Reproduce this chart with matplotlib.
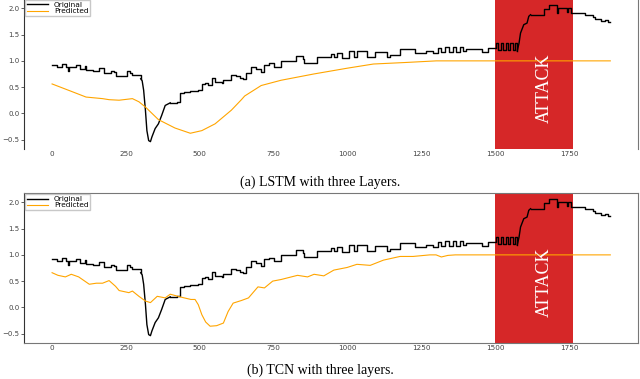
import numpy as np
import matplotlib.pyplot as plt

# "Original" signal.
# Step parts are drawn as steps, the dip and the attack ramp as plain lines.
step1_x = [0, 15, 35, 48, 54, 58, 82, 93, 110, 115, 138, 160, 177, 199, 210,
           216, 255, 263, 270, 294, 300]
step1_y = [0.92, 0.88, 0.94, 0.88, 0.80, 0.88, 0.92, 0.84, 0.90, 0.83, 0.81,
           0.86, 0.76, 0.81, 0.78, 0.72, 0.80, 0.77, 0.74, 0.73, 0.66]
dip_x = [300, 305, 310, 316, 321, 327, 333, 338, 349, 360, 371, 383, 400]
dip_y = [0.66, 0.62, 0.44, 0.06, -0.33, -0.52, -0.54, -0.45, -0.29, -0.20,
         -0.04, 0.15, 0.20]
step2_x = [400, 423, 434, 445, 468, 495, 507, 518, 529, 540, 552, 574, 580,
           607, 624, 635, 647, 658, 675, 691, 708, 719, 736, 753, 775, 825, 848,
           853, 896, 943, 954, 965, 982, 1004, 1021, 1032, 1066, 1094, 1133,
           1144, 1178, 1228, 1267, 1289, 1306, 1318, 1330, 1345, 1356, 1368,
           1380, 1390, 1400, 1457, 1475, 1502, 1510, 1519, 1527, 1536, 1544,
           1552, 1560, 1567, 1575]
step2_y = [0.20, 0.22, 0.38, 0.41, 0.43, 0.45, 0.56, 0.57, 0.54, 0.67, 0.60,
           0.57, 0.63, 0.74, 0.71, 0.67, 0.65, 0.76, 0.89, 0.84, 0.79, 0.92,
           0.95, 0.88, 0.99, 1.10, 1.03, 0.96, 1.07, 1.13, 1.08, 1.15, 1.05,
           1.18, 1.08, 1.18, 1.07, 1.16, 1.08, 1.11, 1.22, 1.15, 1.18, 1.15,
           1.24, 1.16, 1.26, 1.16, 1.26, 1.16, 1.27, 1.18, 1.22, 1.17, 1.24,
           1.34, 1.20, 1.34, 1.20, 1.34, 1.20, 1.34, 1.20, 1.34, 1.19]
ramp_x = [1575, 1581, 1586, 1597, 1608, 1614, 1620]
ramp_y = [1.19, 1.34, 1.53, 1.69, 1.72, 1.85, 1.88]
step3_x = [1620, 1664, 1681, 1708, 1714, 1742, 1748, 1758, 1804, 1832, 1838,
           1860, 1872, 1883, 1890]
step3_y = [1.88, 1.98, 2.06, 1.92, 2.01, 1.93, 2.01, 1.92, 1.88, 1.84, 1.80,
           1.76, 1.78, 1.74, 1.74]

# LSTM prediction
lstm_x = [0, 60, 115, 171, 193, 227, 272, 294, 316, 360, 416, 468, 507, 552,
          607, 641, 652, 708, 775, 886, 999, 1088, 1200, 1301, 1500, 1890]
lstm_y = [0.56, 0.43, 0.31, 0.28, 0.26, 0.25, 0.28, 0.22, 0.12, -0.12, -0.28,
          -0.38, -0.33, -0.20, 0.06, 0.26, 0.33, 0.53, 0.63, 0.75, 0.86, 0.94,
          0.97, 1.0, 1.0, 1.0]

# TCN prediction
tcn_x = [0, 20, 45, 65, 90, 126, 150, 171, 193, 215, 227, 260, 272, 294, 316,
         333, 356, 383, 400, 420, 440, 470, 484, 495, 507, 520, 535, 557, 580,
         596, 613, 641, 665, 697, 719, 747, 775, 831, 865, 887, 920, 954, 999,
         1032, 1077, 1122, 1178, 1222, 1279, 1300, 1318, 1340, 1365, 1500, 1890]
tcn_y = [0.66, 0.61, 0.58, 0.63, 0.58, 0.44, 0.46, 0.46, 0.51, 0.40, 0.32, 0.28,
         0.31, 0.21, 0.12, 0.09, 0.21, 0.18, 0.25, 0.22, 0.19, 0.15, 0.15, 0.05,
         -0.14, -0.28, -0.36, -0.35, -0.30, -0.08, 0.08, 0.13, 0.18, 0.39, 0.37,
         0.50, 0.53, 0.61, 0.58, 0.63, 0.60, 0.71, 0.76, 0.82, 0.80, 0.90, 0.97,
         0.97, 1.0, 1.0, 0.96, 0.99, 1.0, 1.0, 1.0]

attack_start, attack_end = 1500, 1765
captions = ["(a) LSTM with three Layers.", "(b) TCN with three layers."]

fig = plt.figure(figsize=(6.4, 3.79), dpi=100)
ax1 = fig.add_axes([0.038, 0.6069, 0.959, 0.3958])
ax2 = fig.add_axes([0.038, 0.095, 0.959, 0.3958])

for ax, px, py in [(ax1, lstm_x, lstm_y), (ax2, tcn_x, tcn_y)]:
    ax.axvspan(attack_start, attack_end, color="#d62728", lw=0, zorder=0)
    kw = dict(color="black", lw=1.0)
    ax.plot(step1_x, step1_y, drawstyle="steps-post", label="Original", **kw)
    ax.plot(dip_x, dip_y, **kw)
    ax.plot(step2_x, step2_y, drawstyle="steps-post", **kw)
    ax.plot(ramp_x, ramp_y, **kw)
    ax.plot(step3_x, step3_y, drawstyle="steps-post", **kw)
    ax.plot(px, py, color="orange", lw=0.8, label="Predicted")
    ax.text(1665, 0.47, "ATTACK", rotation=90, color="white", fontsize=13,
            family="Liberation Serif", ha="center", va="center")
    ax.set_xlim(-94, 1984)
    ax.set_ylim(-0.68, 2.18)
    ax.set_xticks(np.arange(0, 1751, 250))
    ax.set_yticks([-0.5, 0.0, 0.5, 1.0, 1.5, 2.0])
    ax.tick_params(axis="x", length=0, pad=1.5, labelsize=5.2, colors="#444")
    ax.tick_params(axis="y", length=2.2, width=0.6, pad=1.2, labelsize=5.0,
                   colors="#444")
    for s in ax.spines.values():
        s.set_color("#777")
        s.set_linewidth(0.8)
    ax.spines["left"].set_color("#333")
    ax.legend(loc="upper left", fontsize=5.3, handlelength=2.8,
              borderaxespad=0.15, borderpad=0.25, labelspacing=0.0,
              frameon=True, fancybox=False, edgecolor="#bbb")

ax1.spines["top"].set_visible(False)
ax1.spines["bottom"].set_visible(False)

fig.text(0.5, 0.52, captions[0], ha="center", va="center", fontsize=10,
         family="Liberation Serif")
fig.text(0.5, 0.022, captions[1], ha="center", va="center", fontsize=10,
         family="Liberation Serif")

fig.savefig("out.png", dpi=100)
